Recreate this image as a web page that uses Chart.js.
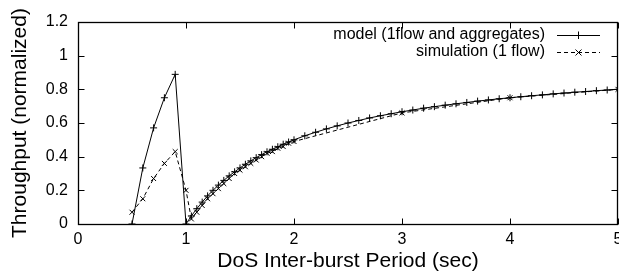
<!DOCTYPE html>
<html>
<head>
<meta charset="utf-8">
<script src="https://cdn.jsdelivr.net/npm/chart.js@4"></script>
<style>
  html, body { margin: 0; padding: 0; background: #fff; overflow: hidden; }
  /* a little wider than the window: the last x label gets cut at the edge, as in the original */
  #wrap { width: 623px; height: 274px; }
</style>
</head>
<body>
<div id="wrap"><canvas id="chart"></canvas></div>
<script>
// values
const modelX = [0.5, 0.6, 0.7, 0.8, 0.9, 1.0,
  1.05, 1.1, 1.15, 1.2, 1.25, 1.3, 1.35, 1.4, 1.45, 1.5, 1.55, 1.6, 1.65, 1.7, 1.75, 1.8, 1.85, 1.9, 1.95, 2.0,
  2.1, 2.2, 2.3, 2.4, 2.5, 2.6, 2.7, 2.8, 2.9, 3.0, 3.1, 3.2, 3.3, 3.4, 3.5, 3.6, 3.7, 3.8, 3.9, 4.0,
  4.1, 4.2, 4.3, 4.4, 4.5, 4.6, 4.7, 4.8, 4.9, 5.0];
const modelY = [0, 0.333, 0.571, 0.75, 0.889, 0,
  0.048, 0.091, 0.13, 0.167, 0.2, 0.231, 0.259, 0.286, 0.31, 0.333, 0.355, 0.375, 0.394, 0.412, 0.429, 0.444, 0.459, 0.474, 0.487, 0.5,
  0.524, 0.545, 0.565, 0.583, 0.6, 0.615, 0.63, 0.643, 0.655, 0.667, 0.677, 0.688, 0.697, 0.706, 0.714, 0.722, 0.73, 0.737, 0.744, 0.75,
  0.756, 0.762, 0.767, 0.773, 0.778, 0.783, 0.787, 0.792, 0.796, 0.8];

const simX = [0.5, 0.6, 0.7, 0.8, 0.9, 1.0,
  1.05, 1.1, 1.15, 1.2, 1.25, 1.3, 1.35, 1.4, 1.45, 1.5, 1.55, 1.6, 1.65, 1.7, 1.75, 1.8, 1.85, 1.9, 1.95, 2.0,
  3.0, 4.0, 5.0];
const simY = [0.07, 0.15, 0.27, 0.36, 0.43, 0.2,
  0.03, 0.07, 0.11, 0.15, 0.18, 0.21, 0.24, 0.27, 0.3, 0.32, 0.34, 0.36, 0.38, 0.4, 0.42, 0.43, 0.45, 0.46, 0.48, 0.49,
  0.66, 0.75, 0.8];

const seriesNames = ["model (1flow and aggregates)", "simulation (1 flow)"];
const xTicks = [0, 1, 2, 3, 4, 5];
const yTicks = [0, 0.2, 0.4, 0.6, 0.8, 1, 1.2];

const FONT = "'Liberation Sans', Arial, sans-serif";

function points(xs, ys) {
  return xs.map((x, i) => ({ x: x, y: ys[i] }));
}

// gnuplot look: full box, inward ticks on all sides, legend top right
const gnuplotFrame = {
  id: "gnuplotFrame",
  afterDatasetsDraw(chart) {
    const ctx = chart.ctx;
    const a = chart.chartArea;
    const xs = chart.scales.x, ys = chart.scales.y;
    const L = Math.round(a.left) + 0.5, R = Math.round(a.right) - 0.5;
    const T = Math.round(a.top) + 0.5, B = Math.round(a.bottom) + 0.5;
    ctx.save();
    ctx.strokeStyle = "#000";
    ctx.lineWidth = 1;
    ctx.setLineDash([]);
    ctx.beginPath();
    xTicks.forEach((v) => {
      const px = Math.round(xs.getPixelForValue(v)) + 0.5;
      ctx.moveTo(px, B); ctx.lineTo(px, B - 6);
      ctx.moveTo(px, T); ctx.lineTo(px, T + 6);
    });
    yTicks.forEach((v) => {
      const py = Math.round(ys.getPixelForValue(v)) + 0.5;
      ctx.moveTo(L, py); ctx.lineTo(L + 6, py);
      ctx.moveTo(R, py); ctx.lineTo(R - 6, py);
    });
    ctx.stroke();
    ctx.lineWidth = 1.3;
    ctx.strokeRect(L, T, R - L, B - T);

    // legend
    ctx.font = "16px " + FONT;
    ctx.textAlign = "right";
    ctx.textBaseline = "middle";
    ctx.fillStyle = "#000";
    const rows = [35, 52];
    chart.data.datasets.forEach((ds, i) => {
      const y = rows[i];
      ctx.fillText(seriesNames[i], 545, y);
      ctx.lineWidth = 1;
      ctx.setLineDash(ds.borderDash || []);
      ctx.beginPath();
      ctx.moveTo(557, y + 0.5); ctx.lineTo(600, y + 0.5);
      ctx.stroke();
      ctx.setLineDash([]);
      ctx.beginPath();
      if (ds.pointStyle === "cross") {
        ctx.moveTo(578.5, y - 3.5); ctx.lineTo(578.5, y + 4);
        ctx.moveTo(575, y + 0.5); ctx.lineTo(582, y + 0.5);
      } else {
        ctx.moveTo(575.5, y - 2.5); ctx.lineTo(581.5, y + 3.5);
        ctx.moveTo(581.5, y - 2.5); ctx.lineTo(575.5, y + 3.5);
      }
      ctx.stroke();
    });
    ctx.restore();
  }
};

new Chart("chart", {
  type: "line",
  data: {
    datasets: [
      {
        label: seriesNames[0],
        data: points(modelX, modelY),
        borderColor: "#000",
        borderWidth: 1,
        pointStyle: "cross",
        pointRadius: 3.5,
        pointBorderColor: "#000",
        pointBorderWidth: 1,
        tension: 0,
        fill: false,
      },
      {
        label: seriesNames[1],
        data: points(simX, simY),
        borderColor: "#000",
        borderWidth: 1,
        borderDash: [4, 3],
        pointStyle: "crossRot",
        pointRadius: 3.5,
        pointBorderColor: "#000",
        pointBorderWidth: 1,
        tension: 0,
        fill: false,
      },
    ],
  },
  options: {
    responsive: true,
    maintainAspectRatio: false,
    animation: false,
    layout: { padding: { top: 22, right: 0, left: 0, bottom: 0 } },
    plugins: {
      legend: { display: false },
      tooltip: { enabled: false },
    },
    elements: { point: { hitRadius: 0 } },
    scales: {
      x: {
        type: "linear",
        min: 0,
        max: 5,
        afterBuildTicks: (s) => { s.ticks = xTicks.map((v) => ({ value: v })); },
        afterFit: (s) => { s.height = 50; },
        grid: { display: false, drawTicks: true, tickLength: 6 },
        border: { display: false },
        ticks: {
          color: "#000",
          font: { family: FONT, size: 16 },
          padding: 0,
          maxRotation: 0,
        },
        title: {
          display: true,
          text: "DoS Inter-burst Period (sec)",
          color: "#000",
          font: { family: FONT, size: 21 },
          padding: { top: 0, bottom: 0 },
        },
      },
      y: {
        type: "linear",
        min: 0,
        max: 1.2,
        afterBuildTicks: (s) => { s.ticks = yTicks.map((v) => ({ value: v })); },
        afterFit: (s) => { s.width = 78; },
        grid: { display: false, drawTicks: false },
        border: { display: false },
        ticks: {
          color: "#000",
          font: { family: FONT, size: 16 },
          padding: 10,
          callback: (v) => String(v),
        },
        title: {
          display: true,
          text: "Throughput (normalized)",
          color: "#000",
          font: { family: FONT, size: 21 },
          padding: { top: 8, bottom: 0 },
        },
      },
    },
  },
  plugins: [gnuplotFrame],
});
</script>
</body>
</html>
